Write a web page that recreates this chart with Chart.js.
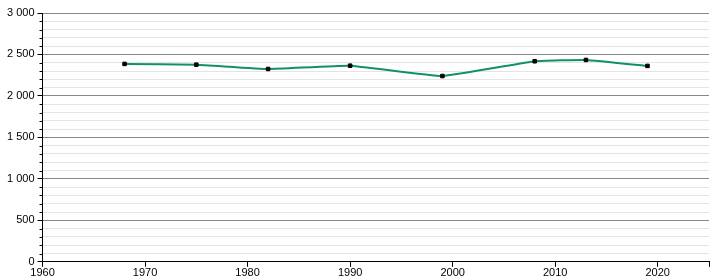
<!DOCTYPE html>
<html>
<head>
    <title>Population</title>
    <script src="https://cdn.jsdelivr.net/npm/chart.js"></script>
    <style>
        body { margin: 0; background: #fff; }
        .wrap { width: 720px; height: 280px; position: relative; }
    </style>
</head>
<body>
<div class="wrap"><canvas id="chart"></canvas></div>
<script>
    // années de recensement et population
    const years = [1968, 1975, 1982, 1990, 1999, 2008, 2013, 2019];
    const population = [2386, 2377, 2325, 2365, 2240, 2418, 2434, 2362];
    const yMin = 0, yMax = 3000, yMinorStep = 100, yMajorStep = 500;
    const xMin = 1960, xMax = 2025, xStep = 10;

    const fmt = v => String(v).replace(/\B(?=(\d{3})+(?!\d))/g, ' ');

    // petites graduations secondaires sur l'axe des y
    const minorTicks = {
        id: 'minorTicks',
        afterDraw(chart) {
            const y = chart.scales.y, ctx = chart.ctx;
            ctx.save();
            ctx.strokeStyle = '#000';
            ctx.lineWidth = 1;
            y.ticks.forEach(t => {
                if (t.value % yMajorStep === 0) return;
                const py = Math.round(y.getPixelForValue(t.value)) + 0.5;
                ctx.beginPath();
                ctx.moveTo(y.right - 3, py);
                ctx.lineTo(y.right, py);
                ctx.stroke();
            });
            ctx.restore();
        }
    };

    Chart.defaults.font.family = "'Liberation Sans', Arial, sans-serif";
    Chart.defaults.font.size = 11;
    Chart.defaults.color = '#000';

    new Chart(document.getElementById('chart'), {
        type: 'line',
        data: {
            datasets: [{
                data: years.map((x, i) => ({x: x, y: population[i]})),
                borderColor: '#12906a',
                borderWidth: 2,
                tension: 0.1,
                pointStyle: 'rect',
                pointRadius: 2.5,
                pointBackgroundColor: '#000',
                pointBorderColor: '#000',
                pointBorderWidth: 1
            }]
        },
        options: {
            responsive: true,
            maintainAspectRatio: false,
            animation: false,
            layout: { padding: { top: 13, right: 11, left: 4, bottom: 0 } },
            plugins: { legend: { display: false }, tooltip: { enabled: false } },
            scales: {
                x: {
                    type: 'linear',
                    min: xMin,
                    max: xMax,
                    border: { color: '#000', width: 1 },
                    grid: { display: true, drawOnChartArea: false, tickLength: 5, tickColor: '#000' },
                    ticks: { stepSize: xStep, padding: 0, callback: v => v % xStep === 0 ? String(v) : '' }
                },
                y: {
                    min: yMin,
                    max: yMax,
                    border: { color: '#000', width: 1 },
                    grid: {
                        tickLength: 5,
                        color: ctx => ctx.tick && ctx.tick.value % yMajorStep === 0 ? '#888' : '#e4e4e4',
                        tickColor: ctx => ctx.tick && ctx.tick.value % yMajorStep === 0 ? '#000' : 'rgba(0,0,0,0)'
                    },
                    ticks: {
                        stepSize: yMinorStep,
                        autoSkip: false,
                        padding: 3,
                        callback: v => v % yMajorStep === 0 ? fmt(v) : ''
                    }
                }
            }
        },
        plugins: [minorTicks]
    });
</script>
</body>
</html>
